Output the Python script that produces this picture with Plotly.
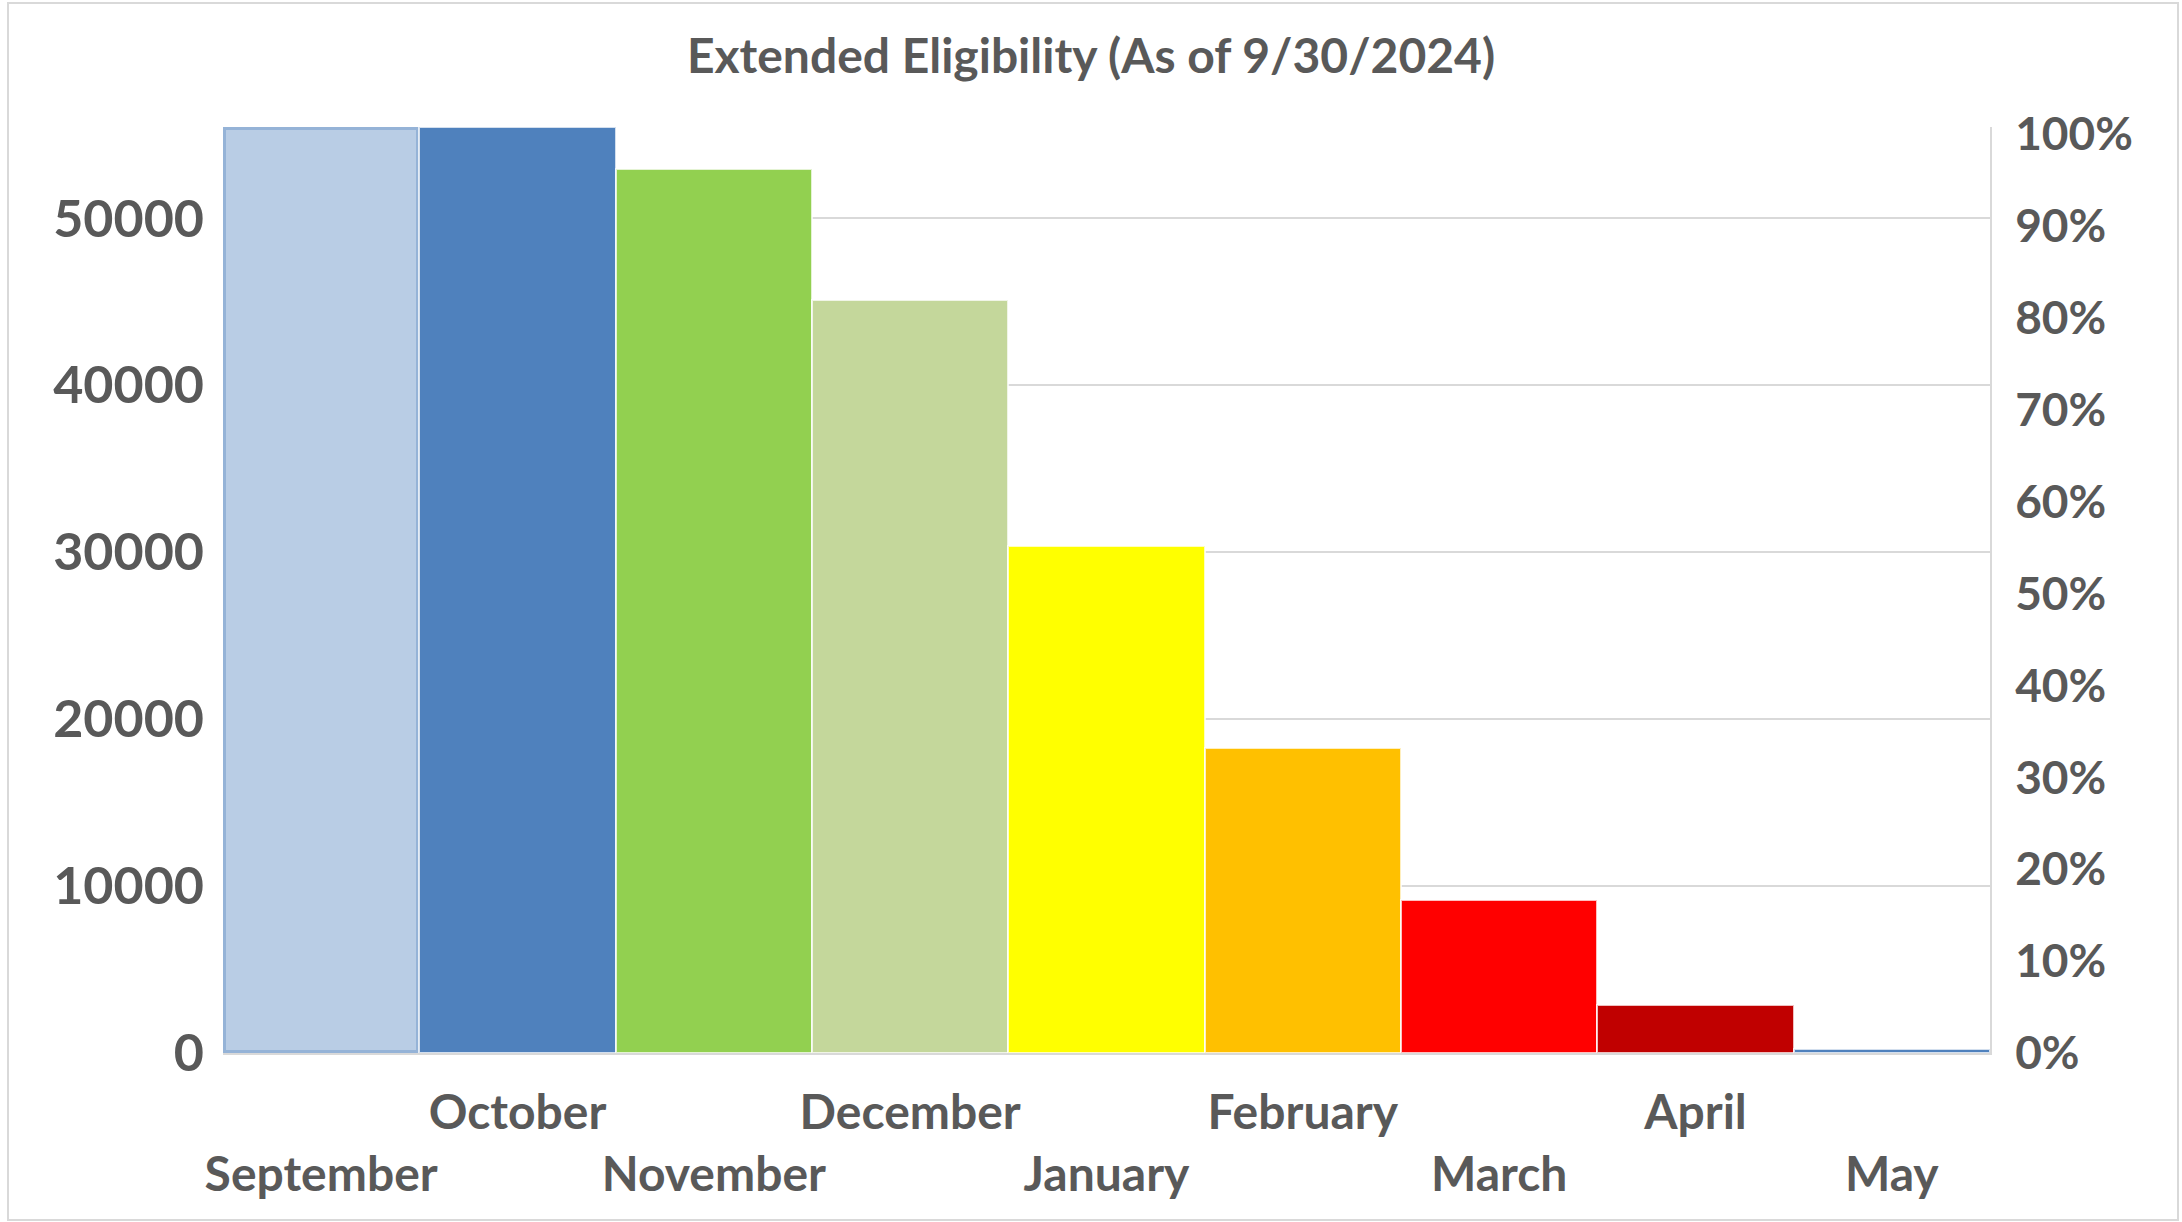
import plotly.graph_objects as go

# ---- data ----
months = ["September", "October", "November", "December", "January",
          "February", "March", "April", "May"]
enrollees = [55470, 55470, 52930, 45110, 30380, 18300, 9140, 2850, 260]
bar_colors = ["#B9CDE5", "#4F81BD", "#92D050", "#C4D79B", "#FFFF00",
              "#FFC000", "#FF0000", "#C00000", "#4F81BD"]
left_ticks = [0, 10000, 20000, 30000, 40000, 50000]
right_ticks = [0, 0.1, 0.2, 0.3, 0.4, 0.5, 0.6, 0.7, 0.8, 0.9, 1.0]
title_text = "Extended Eligibility (As of 9/30/2024)"

# staggered category labels (Excel style): odd -> top row, even -> bottom row
tick_text = [(" <br>" + m) if i % 2 == 0 else m for i, m in enumerate(months)]

W, H = 2182, 1222
L, R, T, B = 223, 192, 127, 169
PW, PH = W - L - R, H - T - B

line_colors = ["#95B3D7"] + ["rgba(255,255,255,0.75)"] * (len(months) - 1)
line_widths = [6] + [2] * (len(months) - 1)

GRAY = "#595959"
GRID = "#D9D9D9"

fig = go.Figure()
fig.add_trace(go.Bar(
    x=months, y=enrollees,
    marker=dict(color=bar_colors, line=dict(color=line_colors, width=line_widths)),
    showlegend=False, hoverinfo="x+y",
))
# invisible trace to activate the secondary (percentage) axis
fig.add_trace(go.Scatter(
    x=[months[0], months[-1]], y=[right_ticks[0], right_ticks[-1]], yaxis="y2",
    mode="markers", marker=dict(opacity=0), showlegend=False, hoverinfo="skip",
))

fig.update_layout(
    width=W, height=H, autosize=False,
    margin=dict(l=L, r=R, t=T, b=B, pad=0),
    paper_bgcolor="white", plot_bgcolor="white",
    bargap=0,
    title=dict(text=title_text, x=0.5, xref="container", xanchor="center",
               y=1 - 56 / H, yref="container", yanchor="middle",
               font=dict(family="Lato", size=48, color=GRAY, weight="bold")),
    xaxis=dict(
        type="category", tickmode="array", tickvals=months, ticktext=tick_text,
        tickfont=dict(family="Lato", size=48, color=GRAY, weight="bold"),
        tickangle=0, automargin=False,
        showgrid=False, showline=True, linecolor=GRID, linewidth=2,
        ticks="", ticklabelstandoff=16,
    ),
    yaxis=dict(
        range=[0, enrollees[0]], tickmode="array", tickvals=left_ticks,
        tickformat="d", automargin=False,
        tickfont=dict(family="Lato", size=52, color=GRAY, weight="bold"),
        showgrid=True, gridcolor=GRID, gridwidth=2, zeroline=False,
        showline=False, ticks="", ticklabelstandoff=18,
    ),
    yaxis2=dict(
        overlaying="y", side="right", range=[0, 1.008], tickmode="array",
        tickvals=right_ticks, tickformat=".0%", automargin=False,
        tickfont=dict(family="Lato", size=46, color=GRAY, weight="bold"),
        showgrid=False, zeroline=False, showline=True, linecolor=GRID,
        linewidth=2, ticks="", ticklabelstandoff=14,
    ),
    shapes=[dict(
        type="rect", xref="paper", yref="paper",
        x0=(8 - L) / PW, x1=(2178 - L) / PW,
        y0=(H - B - 1220) / PH, y1=(H - B - 3) / PH,
        line=dict(color=GRID, width=2), fillcolor="rgba(0,0,0,0)", layer="below",
    )],
)

fig.write_html("out.html")
